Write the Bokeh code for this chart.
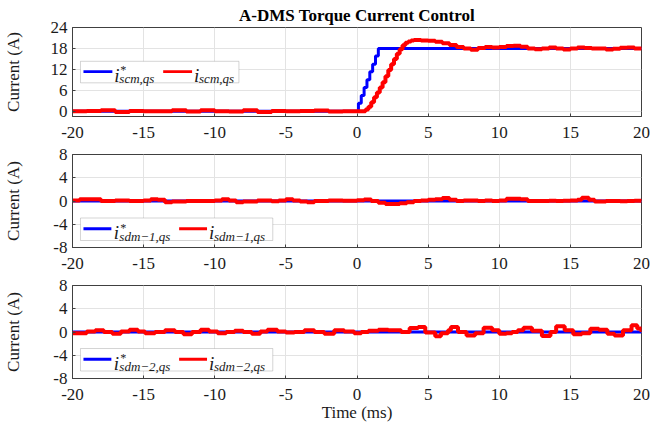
from bokeh.plotting import figure
from bokeh.layouts import column
from bokeh.models import Range1d, FixedTicker, BoxAnnotation, Label
from bokeh.embed import file_html
from bokeh.resources import INLINE

# ---------------- data ----------------
x_ticks = [-20, -15, -10, -5, 0, 5, 10, 15, 20]
x_tick_labels = ["-20", "-15", "-10", "-5", "0", "5", "10", "15", "20"]
y1_ticks = [0, 6, 12, 18, 24]
y1_tick_labels = ["0", "6", "12", "18", "24"]
y23_ticks = [-8, -4, 0, 4, 8]
y23_tick_labels = ["-8", "-4", "0", "4", "8"]

# panel 1 : scm
scm_ref_t = [-20, 0.1, 0.3, 0.5, 0.7, 0.9, 1.1, 1.3, 1.5, 20]
scm_ref_v = [0, 2.3, 4.5, 6.8, 9.0, 11.3, 13.5, 15.8, 18.0, 18.0]
scm_t = [-20, -19, -18, -17, -16, -15, -14, -13, -12, -11, -10, -9, -8, -7, -6, -5, -4, -3, -2, -1, 0,
         0.6, 0.8, 1.0, 1.2, 1.4, 1.6, 1.8, 2.0, 2.2, 2.4, 2.6, 2.8, 3.0, 3.2, 3.4, 3.6, 3.8, 4.0,
         4.5, 5.0, 5.5, 6.0, 6.5, 7.0, 7.5, 8.0, 8.5, 9.0, 9.5, 10.0, 10.5, 11.0, 11.5, 12.0, 12.5,
         13.0, 13.5, 14.0, 14.5, 15.0, 15.5, 16.0, 16.5, 17.0, 17.5, 18.0, 18.5, 19.0, 19.5, 20.0]
scm_v = [0.0, 0.1, 0.3, -0.2, 0.1, 0.0, 0.0, 0.3, -0.1, 0.3, 0.0, -0.1, 0.3, -0.2, 0.1, 0.0, 0.1, 0.2, -0.1, 0.0, 0.0,
         0.5, 1.3, 2.6, 4.0, 5.4, 6.8, 8.3, 10.0, 11.8, 13.5, 15.0, 16.5, 17.8, 18.9, 19.6, 20.0, 20.3, 20.4,
         20.3, 20.2, 19.9, 19.5, 19.0, 18.4, 18.0, 17.6, 18.1, 18.4, 18.3, 18.4, 18.7, 18.8, 18.5, 18.0, 17.8,
         18.0, 18.3, 18.0, 17.7, 18.0, 18.3, 18.1, 18.0, 18.0, 17.7, 17.9, 18.2, 18.3, 18.0, 17.6]

# panel 2 : sdm-1
sdm1_ref_t = [-20, 20]
sdm1_ref_v = [0, 0]
sdm1_t = [-20, -19.5, -19, -18, -17, -16, -15, -14.5, -14, -13.5, -13, -12, -11, -10, -9.5, -9, -8.5, -8,
          -7, -6, -5.5, -5, -4.5, -4, -3.5, -3, -2, -1, 0, 0.5, 1.0, 1.5, 2.0, 2.5, 3.0, 3.5, 4.0, 4.5,
          5.0, 5.5, 6.0, 6.5, 7.0, 7.5, 8.0, 8.5, 9.0, 9.5, 10.0, 10.5, 11.0, 11.5, 12.0, 12.5, 13.0,
          13.5, 14.0, 14.5, 15.0, 15.5, 15.8, 16.3, 16.7, 17.5, 18.0, 18.5, 19.0, 19.5, 20.0]
sdm1_v = [0.1, 0.3, 0.3, 0.0, 0.1, 0.0, 0.1, 0.3, 0.2, -0.2, -0.1, 0.0, 0.0, 0.1, 0.3, 0.1, -0.2, -0.1,
          0.1, -0.05, 0.1, 0.3, 0.1, -0.1, -0.2, 0.0, 0.1, 0.05, 0.15, 0.25, 0.0, -0.3, -0.5, -0.5, -0.4, -0.2, 0.0, 0.1,
          0.2, 0.3, 0.5, 0.2, 0.0, 0.1, 0.1, 0.0, 0.1, 0.0, 0.1, 0.4, 0.4, 0.3, 0.0, 0.0, 0.0,
          0.05, 0.0, 0.05, 0.1, 0.2, 0.55, 0.2, -0.1, 0.0, 0.0, -0.05, 0.0, 0.05, 0.0]

# panel 3 : sdm-2
sdm2_ref_t = [-20, 20]
sdm2_ref_v = [0, 0]
sdm2_t = [-20, -19, -18.4, -17.8, -17.2, -16.6, -16.0, -15.4, -14.9, -14.2, -13.5, -12.8, -12.2, -11.6,
          -11.0, -10.4, -9.8, -9.2, -8.6, -8.0, -7.4, -6.8, -6.3, -5.6, -5.0, -4.4, -3.7, -3.0, -2.3,
          -1.6, -0.9, -0.2, 0.3, 0.8, 1.5, 2.2, 2.7, 3.1, 3.7, 4.3, 4.8, 5.5, 5.9, 6.4, 6.6, 7.1, 7.7,
          8.3, 8.9, 9.5, 10.0, 10.5, 10.9, 11.3, 11.7, 12.3, 13.0, 13.6, 14.0, 14.6, 15.2, 15.8, 16.4,
          17.0, 17.6, 18.1, 18.7, 19.3, 19.7, 20.0]
sdm2_v = [-0.2, 0.1, 0.3, 0.0, -0.3, 0.1, 0.4, 0.1, -0.2, 0.0, 0.3, 0.0, -0.4, 0.0,
          0.4, 0.1, -0.2, 0.0, 0.2, 0.0, -0.3, 0.1, 0.4, 0.1, -0.1, 0.0, 0.3, 0.0, -0.3,
          0.3, 0.1, -0.2, 0.0, 0.2, 0.4, 0.3, 0.3, 0.0, 0.7, 0.85, -0.1, -0.75, -0.2, 0.3, 0.85, 0.0, -0.6,
          -0.2, 0.75, 0.3, -0.3, -0.2, 0.0, 0.3, 0.75, 0.2, -0.7, 0.0, 1.0, 0.3, -0.4, -0.2, 0.55,
          0.4, -0.3, -0.6, 0.3, 1.15, 0.6, 0.0]

# ---------------- layout constants ----------------
X_RANGE = (-20, 20)
FRAME_W = 571
FRAME_H = 93
SERIF = "Liberation Serif"
BLUE = "#0000ff"
RED = "#ff0000"


def frame_x(px):
    return X_RANGE[0] + px / FRAME_W * (X_RANGE[1] - X_RANGE[0])


def frame_y(py, yr):
    return yr[1] - py / FRAME_H * (yr[1] - yr[0])


def make_fig(height, top, bottom, yr, yticks, ylabels, label_standoff, xlabel=None, title=None):
    p = figure(width=650, height=height, x_range=Range1d(*X_RANGE), y_range=Range1d(*yr),
               output_backend="svg", toolbar_location=None,
               min_border_left=70, min_border_right=9, min_border_top=top, min_border_bottom=bottom)
    p.background_fill_color = "white"
    p.border_fill_color = "white"
    p.outline_line_color = "#404040"
    p.outline_line_width = 1
    for ax in (p.xaxis, p.yaxis):
        ax.axis_line_color = "#404040"
        ax.major_tick_in = 3
        ax.major_tick_out = 0
        ax.minor_tick_line_color = None
        ax.major_tick_line_color = "#404040"
        ax.major_label_text_font = SERIF
        ax.major_label_text_font_size = "17px"
        ax.major_label_text_color = "#1a1a1a"
        ax.axis_label_text_font = SERIF
        ax.axis_label_text_font_style = "normal"
        ax.axis_label_text_font_size = "17px"
        ax.axis_label_text_color = "#1a1a1a"
    p.xaxis.ticker = FixedTicker(ticks=x_ticks)
    p.xaxis.major_label_overrides = dict(zip(x_ticks, x_tick_labels))
    p.xaxis.major_label_standoff = 10
    p.yaxis.ticker = FixedTicker(ticks=yticks)
    p.yaxis.major_label_overrides = dict(zip(yticks, ylabels))
    p.yaxis.major_label_standoff = 5
    p.yaxis.axis_label = "Current (A)"
    p.yaxis.axis_label_standoff = label_standoff
    if xlabel:
        p.xaxis.axis_label = xlabel
        p.xaxis.axis_label_standoff = 0
    p.xgrid.grid_line_color = "#e3e3e3"
    p.ygrid.grid_line_color = "#e3e3e3"
    p.xgrid.ticker = FixedTicker(ticks=x_ticks)
    p.ygrid.ticker = FixedTicker(ticks=yticks)
    if title:
        p.title.text = title
        p.title.text_font = SERIF
        p.title.text_font_style = "bold"
        p.title.text_font_size = "17px"
        p.title.align = "center"
        p.title.standoff = 6
        p.title.text_color = "#000000"
    return p


def add_legend(p, yr, box_l, box_r, box_t, items):
    bh = 22.5
    p.add_layout(BoxAnnotation(left=frame_x(box_l), right=frame_x(box_r),
                               top=frame_y(box_t, yr), bottom=frame_y(box_t + bh, yr),
                               fill_color="white", fill_alpha=1.0,
                               line_color="#707070", line_width=1))
    for sw_l, sw_r, i_x, sub_x, color, sup, sub in items:
        p.add_layout(BoxAnnotation(left=frame_x(sw_l), right=frame_x(sw_r),
                                   top=frame_y(box_t + 10.8 - 1.5, yr),
                                   bottom=frame_y(box_t + 10.8 + 1.5, yr),
                                   fill_color=color, fill_alpha=1.0, line_color=None))
        p.add_layout(Label(x=frame_x(i_x), y=frame_y(box_t + 14.7, yr), text="i",
                           text_font=SERIF, text_font_style="italic", text_font_size="19px",
                           text_baseline="alphabetic", text_align="left", text_color="#1a1a1a"))
        if sup:
            p.add_layout(Label(x=frame_x(sub_x + 0.5), y=frame_y(box_t + 9.5, yr), text="*",
                               text_font=SERIF, text_font_style="italic", text_font_size="12px",
                               text_baseline="alphabetic", text_align="left", text_color="#1a1a1a"))
        p.add_layout(Label(x=frame_x(sub_x), y=frame_y(box_t + 18, yr), text=sub,
                           text_font=SERIF, text_font_style="italic", text_font_size="13px",
                           text_baseline="alphabetic", text_align="left", text_color="#1a1a1a"))


# ---------------- panel 1 ----------------
yr1 = (-1.5, 24)
p1 = make_fig(146, 23, 30, yr1, y1_ticks, y1_tick_labels, 25, title="A-DMS Torque Current Control")
p1.step(scm_ref_t, scm_ref_v, mode="after", line_color=BLUE, line_width=3)
p1.step(scm_t, scm_v, mode="after", line_color=RED, line_width=4)
add_legend(p1, yr1, 8, 167, 35.3, [
    (11, 40, 42, 47, BLUE, True, "scm,qs"),
    (91, 120, 122, 127, RED, False, "scm,qs"),
])

# ---------------- panel 2 ----------------
yr2 = (-8, 8)
p2 = make_fig(131, 8, 30, yr2, y23_ticks, y23_tick_labels, 27)
p2.step(sdm1_ref_t, sdm1_ref_v, mode="after", line_color=BLUE, line_width=3)
p2.step(sdm1_t, sdm1_v, mode="after", line_color=RED, line_width=4)
add_legend(p2, yr2, 8, 201, 63.5, [
    (11, 39, 41.5, 47, BLUE, True, "sdm\u22121,qs"),
    (107, 135, 137, 142, RED, False, "sdm\u22121,qs"),
])

# ---------------- panel 3 ----------------
yr3 = (-8, 8)
p3 = make_fig(155, 8, 54, yr3, y23_ticks, y23_tick_labels, 27, xlabel="Time (ms)")
p3.step(sdm2_ref_t, sdm2_ref_v, mode="after", line_color=BLUE, line_width=3)
p3.step(sdm2_t, sdm2_v, mode="after", line_color=RED, line_width=4)
add_legend(p3, yr3, 8, 201, 63, [
    (11, 39, 41.5, 47, BLUE, True, "sdm\u22122,qs"),
    (107, 135, 137, 142, RED, False, "sdm\u22122,qs"),
])

layout = column(p1, p2, p3, spacing=0)
open("out.html", "w").write(file_html(layout, INLINE))
